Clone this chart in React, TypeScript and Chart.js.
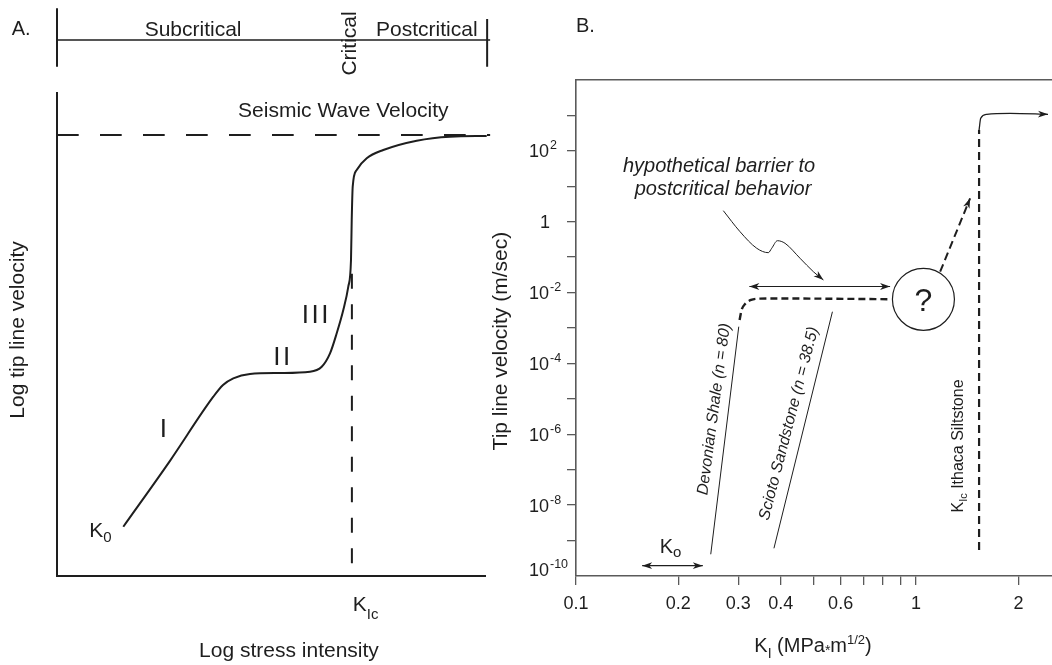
import React, { useEffect, useRef } from 'react';
import { Chart, registerables } from 'chart.js';
Chart.register(...registerables);

const W = 1052;
const H = 665;
const FONT = "'Liberation Sans', Arial, Helvetica, sans-serif";
const INK = '#1e1e1e';
const AXIS_B = '#5a5a5a';

// ---------------- Panel A (schematic, arbitrary log units 0..100) ----------------
const curveAx = [15.49, 26.4, 36.52, 38.79, 41.19, 45.09, 52.1, 59.11, 61.85, 63.79, 65.35, 66.89, 68.06, 68.69, 68.86, 69.09, 70.02, 72.36, 76.24, 84.04, 91.82, 100.4];
const curveAy = [10.15, 23.8, 37.08, 39.51, 40.89, 41.79, 41.99, 42.26, 43.3, 46.07, 50.22, 55.04, 59.87, 65.4, 73.69, 80.59, 84.05, 86.47, 88.19, 90.12, 90.95, 91.09];
const seismicLevel = 91.3;
const seismicX = [0, 101.2];
const kIcX = 68.9;
const kIcY = [2.6, 62.9];
const regionBarX = [0, 100.5, 101.2]; // left bar, right bar, line end
const regionLabels = ['Subcritical', 'Critical', 'Postcritical'];
const regionLabelX = [31.8, 68.0, 86.4];

// ---------------- Panel B (K_I in MPa·m^1/2, velocity in m/s) ----------------
const K_MIN = 0.1;
const K_MAX = 2.51;
const V_MIN = 1e-10;
const V_MAX = 1e4;
const K_TICKS = [0.1, 0.2, 0.3, 0.4, 0.5, 0.6, 0.7, 0.8, 0.9, 1, 2];
const K_TICK_LABELS = ['0.1', '0.2', '0.3', '0.4', '', '0.6', '', '', '', '1', '2'];
const V_TICK_EXP = [-9, -8, -7, -6, -5, -4, -3, -2, -1, 0, 1, 2, 3];
const V_LABEL_EXP = [2, 0, -2, -4, -6, -8, -10];

const devonianK = [0.249, 0.301];
const devonianV = [4.1e-10, 1.09e-3];
const devonianDashK = [0.3027, 0.3068, 0.3142, 0.3271, 0.3477, 0.3848, 0.8444];
const devonianDashV = [1.68e-3, 3.22e-3, 4.76e-3, 6.18e-3, 6.76e-3, 6.81e-3, 6.5e-3];
const sciotoK = [0.382, 0.5676];
const sciotoV = [6.05e-10, 2.88e-3];
const circleK = [1.051];
const circleV = [6.45e-3];
const barrierK = [0.3234, 0.8386];
const barrierV = [0.01486, 0.01486];
const pointerK = [0.2711, 0.3036, 0.34, 0.3677, 0.3763, 0.3911, 0.4118, 0.4558, 0.4989, 0.5339];
const pointerV = [2.05, 0.523, 0.178, 0.1337, 0.178, 0.291, 0.246, 0.0929, 0.0388, 0.02265];
const postK = [1.177, 1.442];
const postV = [0.0389, 4.58];
const ithacaK = [1.532, 1.532];
const ithacaV = [5.4e-10, 388];
const hookK = [1.532, 1.549, 1.614, 1.89, 2.443];
const hookV = [388, 830, 1077, 1148, 1077];
const koK = [0.1565, 0.236];
const koV = [1.95e-10, 1.95e-10];

type Part = { t: string; size: number; dy?: number; italic?: boolean; gap?: number };

function font(size: number, italic = false) {
  return `${italic ? 'italic ' : ''}${size}px ${FONT}`;
}

function drawParts(ctx: any, parts: Part[], x: number, y: number, align = 'left', rot = 0, vOff = 0) {
  ctx.save();
  ctx.translate(x, y);
  if (rot) ctx.rotate(rot);
  let w = 0;
  for (const p of parts) {
    ctx.font = font(p.size, p.italic);
    w += ctx.measureText(p.t).width + (p.gap || 0);
  }
  let cx = align === 'center' ? -w / 2 : align === 'right' ? -w : 0;
  ctx.fillStyle = INK;
  ctx.textBaseline = 'alphabetic';
  ctx.textAlign = 'left';
  for (const p of parts) {
    ctx.font = font(p.size, p.italic);
    ctx.fillText(p.t, cx, vOff + (p.dy || 0));
    cx += ctx.measureText(p.t).width + (p.gap || 0);
  }
  ctx.restore();
}

function arrowHead(ctx: any, tip: any, from: any, len = 10, half = 3.4) {
  const ang = Math.atan2(tip.y - from.y, tip.x - from.x);
  ctx.save();
  ctx.translate(tip.x, tip.y);
  ctx.rotate(ang);
  ctx.beginPath();
  ctx.moveTo(0, 0);
  ctx.lineTo(-len, -half);
  ctx.lineTo(-len * 0.72, 0);
  ctx.lineTo(-len, half);
  ctx.closePath();
  ctx.fillStyle = INK;
  ctx.fill();
  ctx.restore();
}

const arrowPlugin = {
  id: 'arrowHeads',
  afterDatasetsDraw(chart: any) {
    const ctx = chart.ctx;
    chart.data.datasets.forEach((ds: any, i: number) => {
      if (!ds.arrow) return;
      const pts = chart.getDatasetMeta(i).data;
      const n = pts.length;
      if (n < 2) return;
      arrowHead(ctx, pts[n - 1], pts[n - 2]);
      if (ds.arrow === 'both') arrowHead(ctx, pts[0], pts[1]);
    });
  },
};

const panelAPlugin = {
  id: 'panelAText',
  afterDraw(chart: any) {
    const { ctx, chartArea: area } = chart;
    const xs = chart.scales.x;
    const ys = chart.scales.y;
    const X = (v: number) => xs.getPixelForValue(v);
    const Y = (v: number) => ys.getPixelForValue(v);
    ctx.save();
    // region bar above the panel
    const lineY = area.top - 53;
    ctx.strokeStyle = INK;
    ctx.lineWidth = 1.3;
    ctx.beginPath();
    ctx.moveTo(X(regionBarX[0]), lineY);
    ctx.lineTo(X(regionBarX[2]), lineY);
    ctx.stroke();
    ctx.lineWidth = 2;
    ctx.beginPath();
    ctx.moveTo(X(regionBarX[0]), area.top - 84.7);
    ctx.lineTo(X(regionBarX[0]), area.top - 26.3);
    ctx.moveTo(X(regionBarX[1]), area.top - 74);
    ctx.lineTo(X(regionBarX[1]), area.top - 26.3);
    ctx.stroke();
    drawParts(ctx, [{ t: 'A.', size: 20 }], X(-10.6), area.top - 58, 'left');
    drawParts(ctx, [{ t: regionLabels[0], size: 21 }], X(regionLabelX[0]), area.top - 57, 'center');
    drawParts(ctx, [{ t: regionLabels[2], size: 21 }], X(regionLabelX[2]), area.top - 57, 'center');
    drawParts(ctx, [{ t: regionLabels[1], size: 21 }], X(regionLabelX[1]), area.top - 49.5, 'center', -Math.PI / 2, 7.5);
    // in-plot labels
    drawParts(ctx, [{ t: 'Seismic Wave Velocity', size: 21 }], X(66.9), Y(95.0), 'center');
    drawParts(ctx, [{ t: 'I', size: 26 }], X(24.84), Y(28.8), 'center');
    drawParts(ctx, [{ t: 'I', size: 26, gap: 2.5 }, { t: 'I', size: 26 }], X(52.5), Y(43.6), 'center');
    drawParts(ctx, [{ t: 'I', size: 26, gap: 2.5 }, { t: 'I', size: 26, gap: 2.5 }, { t: 'I', size: 26 }], X(60.3), Y(52.3), 'center');
    drawParts(ctx, [{ t: 'K', size: 21 }, { t: '0', size: 15, dy: 5 }], X(7.55), Y(8.08), 'left');
    drawParts(ctx, [{ t: 'K', size: 21 }, { t: 'Ic', size: 15, dy: 8 }], X(69.1), Y(-7.25), 'left');
    // axis titles
    drawParts(ctx, [{ t: 'Log stress intensity', size: 21 }], X(54.2), Y(-16.9), 'center');
    drawParts(ctx, [{ t: 'Log tip line velocity', size: 21 }], X(-9.45), Y(50.9), 'center', -Math.PI / 2, 7.5);
    ctx.restore();
  },
};

const panelBPlugin = {
  id: 'panelBText',
  afterDraw(chart: any) {
    const { ctx, chartArea: area } = chart;
    const xs = chart.scales.x;
    const ys = chart.scales.y;
    const X = (v: number) => xs.getPixelForValue(v);
    const Y = (v: number) => ys.getPixelForValue(v);
    ctx.save();
    // y tick labels with superscripts
    const right = area.left - 27;
    for (const e of V_LABEL_EXP) {
      const py = Y(Math.pow(10, e)) + (e === -10 ? -7 : 0) + 6.5;
      if (e === 0) {
        drawParts(ctx, [{ t: '1', size: 18 }], right + 1, py, 'right');
      } else {
        drawParts(ctx, [{ t: '10', size: 18 }], right, py, 'right');
        drawParts(ctx, [{ t: String(e), size: 12.5 }], right + 1, py - 8, 'left');
      }
    }
    drawParts(ctx, [{ t: 'B.', size: 20 }], X(K_MIN), area.top - 48, 'left');
    // axis titles
    drawParts(ctx, [{ t: 'Tip line velocity (m/sec)', size: 21 }], area.left - 76.5, Y(Math.pow(10, -3.37)), 'center', -Math.PI / 2, 7.5);
    drawParts(
      ctx,
      [
        { t: 'K', size: 20 },
        { t: 'I', size: 14, dy: 6 },
        { t: ' (MPa', size: 20 },
        { t: '*', size: 14, dy: 3 },
        { t: 'm', size: 20 },
        { t: '1/2', size: 13, dy: -8 },
        { t: ')', size: 20 },
      ],
      X(0.4977),
      area.bottom + 75.7,
      'center'
    );
    // annotations
    drawParts(ctx, [{ t: 'hypothetical barrier to', size: 20, italic: true }], X(0.2634), Y(25.3), 'center');
    drawParts(ctx, [{ t: 'postcritical behavior', size: 20, italic: true }], X(0.2706), Y(5.68), 'center');
    drawParts(ctx, [{ t: '?', size: 32 }], X(circleK[0]), Y(circleV[0]) + 12, 'center');
    drawParts(ctx, [{ t: 'K', size: 20 }, { t: 'o', size: 15, dy: 4 }], X(0.1762), Y(4.38e-10), 'left');
    const angOf = (k: number[], v: number[]) => Math.atan2(Y(v[1]) - Y(v[0]), X(k[1]) - X(k[0]));
    drawParts(
      ctx,
      [
        { t: 'Devonian Shale (', size: 16, italic: true },
        { t: 'n', size: 16, italic: true },
        { t: ' = 80)', size: 16, italic: true },
      ],
      X(0.2532),
      Y(5.18e-6),
      'center',
      angOf(devonianK, devonianV) + 0.01,
      5.5
    );
    drawParts(
      ctx,
      [{ t: 'Scioto Sandstone (n = 38.5)', size: 16, italic: true }],
      X(0.4203),
      Y(2.04e-6),
      'center',
      angOf(sciotoK, sciotoV) + 0.01,
      5.5
    );
    drawParts(
      ctx,
      [
        { t: 'K', size: 16 },
        { t: 'Ic', size: 11, dy: 4 },
        { t: ' Ithaca Siltstone', size: 16 },
      ],
      X(1.32),
      Y(4.68e-7),
      'center',
      -Math.PI / 2,
      5.5
    );
    ctx.restore();
  },
};

const pts = (k: number[], v: number[]) => k.map((x, i) => ({ x, y: v[i] }));

function lineDs(k: number[], v: number[], extra: any = {}) {
  return {
    data: pts(k, v),
    borderColor: INK,
    borderWidth: 1,
    pointRadius: 0,
    fill: false,
    clip: false,
    ...extra,
  };
}

const noPad = (s: any) => {
  s.paddingLeft = 0;
  s.paddingRight = 0;
  s.paddingTop = 0;
  s.paddingBottom = 0;
};

function makeChartA(canvas: HTMLCanvasElement) {
  return new Chart(canvas, {
    type: 'line',
    data: {
      datasets: [
        lineDs(curveAx, curveAy, { borderWidth: 2, cubicInterpolationMode: 'monotone' }),
        lineDs(seismicX, seismicX.map(() => seismicLevel), { borderWidth: 2, borderDash: [21.7, 21.3] }),
        lineDs(kIcY.map(() => kIcX), kIcY, { borderWidth: 2, borderDash: [15, 15.5] }),
      ],
    } as any,
    options: {
      responsive: false,
      maintainAspectRatio: false,
      animation: false,
      events: [],
      layout: { autoPadding: false, padding: { left: 57, right: W - 485, top: 93, bottom: H - 575.7 } },
      plugins: { legend: { display: false }, tooltip: { enabled: false } },
      scales: {
        x: {
          type: 'linear',
          min: 0,
          max: 100,
          ticks: { display: false },
          grid: { display: false },
          border: { display: true, color: INK, width: 2 },
          afterFit: (s: any) => {
            s.height = 0;
            noPad(s);
          },
        },
        y: {
          type: 'linear',
          min: 0,
          max: 100,
          ticks: { display: false },
          grid: { display: false },
          border: { display: true, color: INK, width: 2 },
          afterFit: (s: any) => {
            s.width = 0;
            noPad(s);
          },
        },
      },
    } as any,
    plugins: [panelAPlugin],
  });
}

function makeChartB(canvas: HTMLCanvasElement) {
  return new Chart(canvas, {
    type: 'line',
    data: {
      datasets: [
        lineDs(circleK, circleV, {
          showLine: false,
          pointRadius: 31,
          pointBackgroundColor: '#ffffff',
          pointBorderColor: INK,
          pointBorderWidth: 1.2,
          order: -1,
        }),
        lineDs(devonianK, devonianV, { borderWidth: 1 }),
        lineDs(devonianDashK, devonianDashV, { borderWidth: 2.4, borderDash: [7, 4], cubicInterpolationMode: 'monotone' }),
        lineDs(sciotoK, sciotoV, { borderWidth: 1 }),
        lineDs(barrierK, barrierV, { borderWidth: 1.2, arrow: 'both' }),
        lineDs(pointerK, pointerV, { borderWidth: 1, cubicInterpolationMode: 'monotone', arrow: 'end' }),
        lineDs(postK, postV, { borderWidth: 2, borderDash: [8, 4.5], arrow: 'end' }),
        lineDs(ithacaK, ithacaV, { borderWidth: 2.2, borderDash: [8, 5] }),
        lineDs(hookK, hookV, { borderWidth: 1.3, cubicInterpolationMode: 'monotone', arrow: 'end' }),
        lineDs(koK, koV, { borderWidth: 1.2, arrow: 'both' }),
      ],
    } as any,
    options: {
      responsive: false,
      maintainAspectRatio: false,
      animation: false,
      events: [],
      layout: { autoPadding: false, padding: { left: 500, right: 0, top: 80, bottom: 0 } },
      plugins: { legend: { display: false }, tooltip: { enabled: false } },
      scales: {
        x: {
          type: 'logarithmic',
          min: K_MIN,
          max: K_MAX,
          afterBuildTicks: (s: any) => {
            s.ticks = K_TICKS.map((value) => ({ value }));
          },
          ticks: {
            autoSkip: false,
            maxRotation: 0,
            padding: 8,
            color: INK,
            font: { family: FONT, size: 18 },
            callback: (_v: any, i: number) => K_TICK_LABELS[i] ?? '',
          },
          grid: { display: true, drawOnChartArea: false, drawTicks: true, tickLength: 9, color: AXIS_B, lineWidth: 1.3 },
          border: { display: true, color: AXIS_B, width: 1.6 },
          afterFit: (s: any) => {
            s.height = H - 576;
            noPad(s);
          },
        },
        x2: {
          type: 'linear',
          axis: 'x',
          position: 'top',
          ticks: { display: false },
          grid: { display: false },
          border: { display: true, color: AXIS_B, width: 1.6 },
          afterFit: (s: any) => {
            s.height = 0;
            noPad(s);
          },
        },
        y: {
          type: 'logarithmic',
          min: V_MIN,
          max: V_MAX,
          afterBuildTicks: (s: any) => {
            s.ticks = V_TICK_EXP.map((e) => ({ value: Math.pow(10, e) }));
          },
          ticks: { callback: () => '', font: { family: FONT, size: 18 } },
          grid: { display: true, drawOnChartArea: false, drawTicks: true, tickLength: 9, color: AXIS_B, lineWidth: 1.3 },
          border: { display: true, color: AXIS_B, width: 1.6 },
          afterFit: (s: any) => {
            s.width = 76;
            noPad(s);
          },
        },
      },
    } as any,
    plugins: [arrowPlugin, panelBPlugin],
  });
}

export default function App() {
  const refA = useRef<HTMLCanvasElement>(null);
  const refB = useRef<HTMLCanvasElement>(null);
  useEffect(() => {
    const a = makeChartA(refA.current!);
    const b = makeChartB(refB.current!);
    return () => {
      a.destroy();
      b.destroy();
    };
  }, []);
  const cs: React.CSSProperties = { position: 'absolute', left: 0, top: 0, width: W, height: H };
  return (
    <div style={{ position: 'absolute', left: 0, top: 0, width: W, height: H, background: '#ffffff' }}>
      <canvas ref={refA} width={W} height={H} style={cs} />
      <canvas ref={refB} width={W} height={H} style={cs} />
    </div>
  );
}
